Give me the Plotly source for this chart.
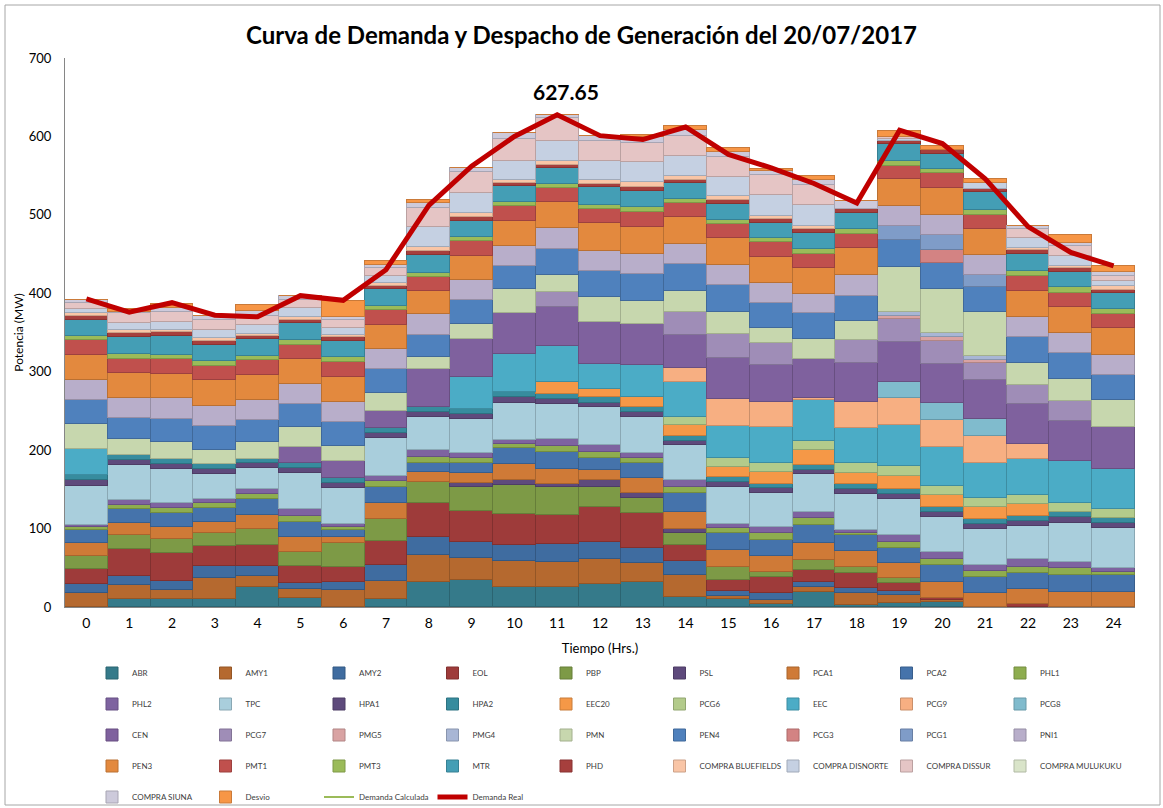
import plotly.graph_objects as go

hours = list(range(25))

ABR = [0, 9.8, 9.8, 9.8, 25.9, 11, 0, 9.8, 32.3, 34.4, 25, 25, 29.3, 32.3, 13.2, 10.2, 3.8, 19.6, 2.5, 4.7, 6, 0, 0, 0, 0]
AMY1 = [17.4, 18.3, 11.9, 26.8, 13.6, 11.5, 21.7, 23.8, 34, 28.5, 33.6, 32.7, 31.5, 23.4, 27.6, 3.8, 5.1, 6.4, 14.9, 10.6, 3, 0, 0, 0, 0]
AMY2 = [11.9, 11.5, 11.5, 16.2, 12.8, 8.5, 10.6, 20, 22.5, 20.4, 20.4, 22.1, 22.5, 19.1, 18.3, 6.8, 8.5, 6.4, 7.2, 5.5, 0, 0, 0, 0, 0]
EOL = [18.7, 34, 35.3, 25, 26.8, 21.7, 19.1, 30.6, 44.2, 39.1, 39.1, 37.4, 43.8, 44.6, 20, 13.6, 20.4, 14.9, 19.1, 10.2, 3, 0, 3.4, 0, 0]
PBP = [17.4, 17.9, 17.9, 17, 20, 17, 29.8, 27.6, 26.8, 31, 37.4, 36.1, 25.5, 19.1, 14.9, 17, 7.2, 12.8, 7.7, 5.5, 0, 0, 0, 0, 0]
PSL = [0, 0, 0, 0, 0, 0, 0, 0, 0, 4.3, 6.4, 3, 9.4, 6.4, 5.1, 0, 0, 0, 0, 0, 0, 0, 0, 0, 0]
PCA1 = [15.7, 16.2, 16.2, 14, 18.3, 19.1, 7.7, 21.3, 11.9, 12.8, 20, 19.1, 12.8, 19.1, 22.5, 21.3, 20, 22.1, 20.4, 19.1, 20.4, 18.3, 19.1, 19.6, 19.6]
PCA2 = [17, 17, 17, 17, 20, 20, 9.4, 20.4, 11.5, 13.6, 21.3, 22.5, 14.9, 19.1, 23.4, 22.1, 20.4, 22.5, 20, 19.1, 21.3, 19.6, 21.3, 21.3, 21.3]
PHL1 = [3.4, 5.5, 6, 6.4, 6.8, 7.7, 3.4, 7.7, 8.5, 5.5, 4.7, 8, 8.5, 6.4, 7.7, 5.5, 8.5, 8.5, 3, 8.5, 7.7, 8.5, 7.7, 8.5, 4.3]
PHL2 = [3, 6.4, 6.8, 5.5, 6, 8.5, 4.3, 6.4, 8.5, 6.4, 5.1, 8.5, 8.5, 7.2, 9.4, 5.5, 8.5, 7.7, 3.4, 8.5, 8.1, 7.2, 9.4, 8.5, 5.1]
TPC = [50, 44.6, 43.4, 31.5, 26.8, 46.3, 45.5, 47.6, 42.5, 43.4, 47.6, 45, 48, 45.9, 44.6, 47.6, 42.5, 48.5, 45.9, 45.5, 45, 45.5, 42.5, 49.7, 50.2]
HPA1 = [7.2, 6.4, 6.8, 6.8, 6.4, 6.4, 6.4, 7.2, 6.4, 6.4, 6.8, 6, 6, 6.4, 5.5, 6.4, 6.4, 5.5, 6, 6.8, 7.2, 6.8, 6.8, 6.8, 7.2]
HPA2 = [7.2, 6.4, 6, 6, 5.5, 6.4, 6.4, 5.5, 6.4, 6.4, 7.2, 6.8, 6.8, 6.4, 6, 5.5, 5.5, 6.4, 6.8, 6, 5.5, 6, 6, 7.2, 5.5]
EEC20 = [0, 0, 0, 0, 0, 0, 0, 0, 0, 0, 0, 14.4, 10.2, 12.8, 14, 13.6, 14.9, 18.3, 14.4, 17, 15.7, 15.3, 14.9, 0, 0]
PCG6 = [0, 0, 0, 0, 0, 0, 0, 0, 0, 0, 0, 0, 0, 0, 10.6, 10.6, 11.5, 11.5, 11.9, 12.8, 11.5, 11.5, 11.9, 11.5, 11.5]
EEC = [33, 0, 0, 0, 0, 0, 0, 0, 0, 40.8, 48, 45.9, 31.9, 40.4, 44.6, 41.2, 45.9, 53.1, 44.6, 52.3, 50.2, 45.5, 45.5, 53.6, 51]
PCG9 = [0, 0, 0, 0, 0, 0, 0, 0, 0, 0, 0, 0, 0, 0, 17, 34, 32.7, 2, 34, 34, 34, 34, 19.6, 0, 0]
PCG8 = [0, 0, 0, 0, 0, 0, 0, 0, 0, 0, 0, 0, 0, 0, 0, 0, 0, 0, 0, 21.3, 21.3, 21.3, 0, 0, 0]
CEN = [0, 0, 0, 0, 0, 20.4, 21.3, 22.5, 47.6, 48.5, 51.9, 49.7, 54.4, 52.3, 42.5, 52.3, 46.8, 49.7, 49.7, 51, 50.2, 50.2, 51, 51, 53.6]
PCG7 = [0, 0, 0, 0, 0, 0, 0, 0, 0, 0, 0, 19.1, 0, 0, 29.8, 31, 28.5, 0, 28.9, 28.9, 28.5, 21.3, 24.2, 25.5, 0]
PMG5 = [0, 0, 0, 0, 0, 0, 0, 0, 0, 0, 0, 0, 0, 0, 0, 0, 0, 0, 0, 4.3, 5.1, 4.3, 0, 0, 0]
PMG4 = [0, 0, 0, 0, 0, 0, 0, 0, 0, 0, 0, 0, 0, 0, 0, 0, 0, 0, 0, 5.1, 5.5, 5.1, 0, 0, 0]
PMN = [32, 20.4, 21.3, 18.3, 21.3, 24.7, 19.1, 23, 16.2, 19.6, 30.6, 22.5, 31.9, 29.8, 26.8, 28.5, 18.3, 25.9, 24.7, 57.4, 56.1, 55.3, 27.6, 27.2, 34.9]
PEN4 = [29.7, 27.2, 29.8, 30.6, 28.5, 29.8, 31, 29.8, 27.6, 29.8, 29.8, 33.1, 33.1, 33.6, 33.6, 34, 32.7, 32.7, 31.9, 34, 33.1, 32.3, 34, 33.1, 31.9]
PCG3 = [0, 0, 0, 0, 0, 0, 0, 0, 0, 0, 0, 0, 0, 0, 0, 0, 0, 0, 0, 0, 17, 0, 0, 0, 0]
PCG1 = [0, 0, 0, 0, 0, 0, 0, 0, 0, 0, 0, 0, 0, 0, 0, 0, 0, 0, 0, 17.9, 19.1, 15.7, 0, 0, 0]
PNI1 = [26.3, 25.5, 26.4, 26, 25.5, 25.5, 25.5, 26, 26.4, 26.4, 26, 26.4, 25.5, 25.9, 25.5, 25.5, 25.5, 24.7, 26.4, 25.5, 25.5, 25.5, 25.5, 25.5, 25.5]
PEN3 = [31.4, 31, 31, 32.7, 31.9, 31.5, 32.7, 30.6, 29.8, 30.6, 31.5, 32.7, 34.9, 34.9, 34.4, 34, 33.1, 32.7, 34, 34, 34, 32.7, 33.1, 34, 34]
PMT1 = [18.7, 18.7, 19.1, 18.3, 18.3, 18.3, 19.1, 19.1, 18.3, 18.3, 18.3, 18.3, 17.9, 19.1, 17.9, 18.3, 18.3, 18.3, 18.3, 17, 19.1, 18.3, 18.7, 17.9, 18.3]
PMT3 = [5, 6, 5.5, 6, 6, 6.4, 6.4, 5.5, 5.1, 5.1, 5.1, 5.5, 5.5, 5.5, 5.1, 5.1, 6, 6, 6, 6.4, 6, 6.4, 6.4, 6.8, 6]
MTR = [21, 21.3, 23.4, 20.4, 21.3, 21.3, 20, 20.8, 22.5, 21.3, 21.3, 20, 22.5, 21.3, 20.4, 20.4, 19.1, 21.3, 21.3, 21.3, 18, 22.1, 21.7, 20, 20.4]
PHD = [5.5, 5.1, 5.1, 5.1, 4.3, 4.3, 4.3, 4.3, 5.1, 4.3, 4, 4.3, 4.3, 4.3, 4.3, 5.1, 4.7, 4.3, 4.3, 4.3, 5, 4.3, 4.3, 4.3, 4.3]
COMPRA_BLUEFIELDS = [3, 4, 3.4, 3.4, 2.5, 3, 3.4, 3.4, 4.3, 5.5, 3, 5, 4.3, 6, 5.1, 5.1, 3.8, 4.3, 0, 0, 0, 0, 3, 3, 4.3]
COMPRA_DISNORTE = [5.5, 9.4, 9.4, 9.8, 11.5, 11.9, 8.5, 9.4, 25.5, 25.5, 25, 25.5, 25, 25.5, 25.5, 24.7, 26.8, 26.8, 0, 2.5, 0, 7.7, 12.8, 12.8, 6.4]
COMPRA_DISSUR = [7.2, 12, 12.8, 12.8, 11.5, 10.6, 10.6, 9.8, 24.7, 27, 27, 29, 25.9, 24.7, 24.7, 25.5, 25.5, 25.5, 0, 2, 1, 0, 11.5, 12.8, 6.4]
COMPRA_MULUKUKU = [0] * 25
COMPRA_SIUNA = [4.2, 2, 5.5, 6, 5.5, 4.3, 3.4, 4.3, 6.4, 5, 8, 4.3, 6, 7.7, 7.7, 6.4, 5.5, 6.4, 10, 0, 0, 0, 4.3, 3.4, 5.1]
Desvio = [0, 4, 5.5, 0, 8.5, 0, 20, 4.3, 3.4, 0, 0, 0, 0, 3, 5.1, 4.3, 2, 4.3, 0, 8, 5, 5.1, 0, 9.8, 7.7]

demanda_calculada = [392, 375, 387, 371, 369, 396, 390, 429, 511, 561, 599, 626.5, 600, 595, 611, 576, 559, 539, 514, 607, 590, 545, 484, 451, 434]
demanda_real = [393, 376, 388, 372, 370, 397, 391, 430, 512, 562, 600, 627.65, 601, 596, 612, 577, 560, 540, 515, 608, 591, 546, 485, 452, 435]

series = [
    ("ABR", ABR, "#357A8A"), ("AMY1", AMY1, "#B5692F"), ("AMY2", AMY2, "#3F6CA0"),
    ("EOL", EOL, "#9E3B3A"), ("PBP", PBP, "#7D9A46"), ("PSL", PSL, "#5E4A7C"),
    ("PCA1", PCA1, "#CF7A37"), ("PCA2", PCA2, "#4573AB"), ("PHL1", PHL1, "#8EAD4F"),
    ("PHL2", PHL2, "#7E63A0"), ("TPC", TPC, "#A9CEDC"), ("HPA1", HPA1, "#5E4A7C"),
    ("HPA2", HPA2, "#378C9E"), ("EEC20", EEC20, "#F59847"), ("PCG6", PCG6, "#B3CB8B"),
    ("EEC", EEC, "#4BACC6"), ("PCG9", PCG9, "#F7AF82"), ("PCG8", PCG8, "#80BBCD"),
    ("CEN", CEN, "#7F619E"), ("PCG7", PCG7, "#9F8DB7"), ("PMG5", PMG5, "#D9A3A3"),
    ("PMG4", PMG4, "#A8B6D5"), ("PMN", PMN, "#C7D7AE"), ("PEN4", PEN4, "#4F81BD"),
    ("PCG3", PCG3, "#D38383"), ("PCG1", PCG1, "#7F9CC8"), ("PNI1", PNI1, "#B8AECA"),
    ("PEN3", PEN3, "#E3893E"), ("PMT1", PMT1, "#C0504D"), ("PMT3", PMT3, "#9BBB59"),
    ("MTR", MTR, "#449EB5"), ("PHD", PHD, "#A63F3D"), ("COMPRA BLUEFIELDS", COMPRA_BLUEFIELDS, "#F9C5A6"),
    ("COMPRA DISNORTE", COMPRA_DISNORTE, "#C5D0E2"), ("COMPRA DISSUR", COMPRA_DISSUR, "#E5C5C5"),
    ("COMPRA MULUKUKU", COMPRA_MULUKUKU, "#D9E4C9"),
    ("COMPRA SIUNA", COMPRA_SIUNA, "#CDCADB"), ("Desvio", Desvio, "#F79646"),
]


def darker(hex_color, f=0.82):
    h = hex_color.lstrip("#")
    r, g, b = (int(h[i:i + 2], 16) for i in (0, 2, 4))
    return "rgb(%d,%d,%d)" % (r * f, g * f, b * f)


legend_names = ["legend", "legend2", "legend3", "legend4", "legend5"]


def legend_for(i):
    if i == 35:  # last entry of row 4 gets its own legend so its long label is not clipped
        return "legend6"
    return legend_names[i // 9]


fig = go.Figure()
for i, (name, vals, col) in enumerate(series):
    fig.add_trace(go.Bar(
        x=hours, y=vals, name=name,
        marker=dict(color=col, line=dict(color=darker(col), width=1)),
        legend=legend_for(i),
    ))

fig.add_trace(go.Scatter(x=hours, y=demanda_calculada, name="Demanda Calculada", mode="lines",
                         line=dict(color="#9BBB59", width=2), legend="legend5"))
fig.add_trace(go.Scatter(x=hours, y=demanda_real, name="Demanda Real", mode="lines",
                         line=dict(color="#C00000", width=5), legend="legend5"))

fig.add_annotation(x=11, y=max(demanda_real), text="<b>627.65</b>", showarrow=False,
                   yshift=23, xshift=9, font=dict(family="Lato", size=21, color="#000000"))

# plot area px: left 65, right 1135, top 58, bottom 607
row_px = [673, 704, 735, 766, 797]
col_step = 113.5
leg_left = 92
leg_common = dict(orientation="h", xanchor="left", yanchor="middle", x=(leg_left - 65) / 1070,
                  entrywidth=col_step - 45, entrywidthmode="pixels", traceorder="normal",
                  font=dict(family="Lato", size=8, color="#404040"),
                  bgcolor="rgba(0,0,0,0)", itemclick=False)
legends = {}
for ln, py in zip(legend_names, row_px):
    legends[ln] = dict(leg_common, y=(607 - py) / 549)
legends["legend6"] = dict(leg_common, entrywidth=0, y=(607 - row_px[3]) / 549,
                          x=(leg_left + 8 * col_step - 65) / 1070)

fig.update_layout(
    width=1163, height=808,
    margin=dict(l=65, r=28, t=58, b=201, autoexpand=False),
    paper_bgcolor="white", plot_bgcolor="white",
    barmode="stack", bargap=0,
    title=dict(text="<b>Curva de Demanda y Despacho de Generación del 20/07/2017</b>",
               x=0.5, xanchor="center", y=1 - 36 / 808, yanchor="middle",
               font=dict(family="Lato", size=24, color="#000000")),
    font=dict(family="Lato", color="#000000"),
    xaxis=dict(range=[-0.5, 24.5], tickmode="array", tickvals=hours,
               ticktext=[str(h) for h in hours], showgrid=False, zeroline=False,
               showline=True, linecolor="#868686", linewidth=1,
               ticks="outside", ticklen=3, tickcolor="rgba(0,0,0,0)",
               tickfont=dict(family="Lato", size=14, color="#000000"),
               title=dict(text="Tiempo (Hrs.)", font=dict(family="Lato", size=13), standoff=14)),
    yaxis=dict(range=[0, 700], tickmode="array", tickvals=[0, 100, 200, 300, 400, 500, 600, 700],
               showgrid=False, zeroline=False, showline=True, linecolor="#868686", linewidth=1,
               ticks="outside", ticklen=10, tickcolor="rgba(0,0,0,0)",
               tickfont=dict(family="Lato", size=13, color="#000000"),
               title=dict(text="Potencia (MW)", font=dict(family="Lato", size=12), standoff=2)),
    showlegend=True,
    **legends,
)

fig.add_shape(type="rect", xref="paper", yref="paper",
              x0=(5 - 65) / 1070, x1=(1160 - 65) / 1070,
              y0=(607 - 805) / 549, y1=(607 - 5) / 549,
              line=dict(color="#A6A6A6", width=1), fillcolor="rgba(0,0,0,0)", layer="below")

fig.write_html("out.html", config={"displayModeBar": False},
               post_script="document.body.style.margin='0';")
